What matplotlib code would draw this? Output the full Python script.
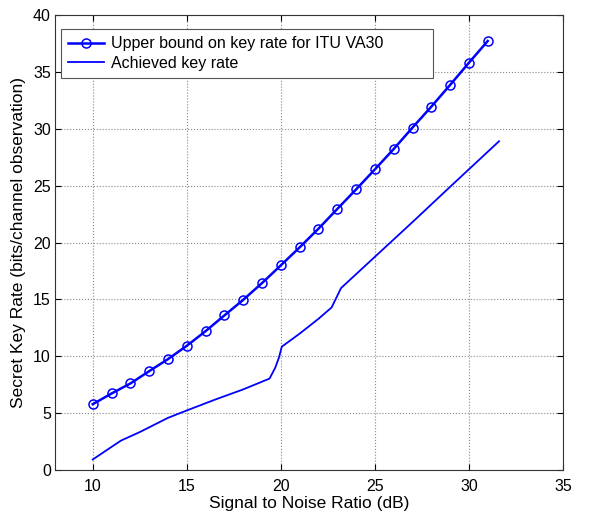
import matplotlib
matplotlib.use("Agg")
import matplotlib.pyplot as plt

plt.rcParams['font.family'] = ['Liberation Sans', 'DejaVu Sans']

snr_upper = [10, 11, 12, 13, 14, 15, 16, 17, 18, 19, 20, 21, 22, 23, 24, 25, 26, 27, 28, 29, 30, 31]
rate_upper = [5.8, 6.74, 7.62, 8.70, 9.76, 10.93, 12.22, 13.6, 14.97, 16.44, 18.0, 19.58,
              21.22, 22.95, 24.67, 26.43, 28.22, 30.1, 31.94, 33.85, 35.8, 37.71]

snr_achieved = [10, 11, 11.5, 12.5, 14, 15, 16.5, 18, 19.4, 19.7, 19.9, 20.05, 21, 22, 22.7,
                23.2, 25, 27, 29, 31.6]
rate_achieved = [0.94, 2.05, 2.6, 3.35, 4.6, 5.25, 6.2, 7.1, 8.05, 9.0, 9.9, 10.85, 12.0, 13.3,
                 14.3, 16.0, 18.75, 21.8, 24.9, 28.9]

fig = plt.figure(figsize=(6.06, 5.15), dpi=100)
ax = fig.add_axes([0.091, 0.087, 0.838, 0.884])

ax.plot(snr_upper, rate_upper, color='#0000ff', lw=1.8, marker='o', markersize=6.5,
        markerfacecolor='none', markeredgewidth=1.1,
        label='Upper bound on key rate for ITU VA30')
ax.plot(snr_achieved, rate_achieved, color='#0000ff', lw=1.3, label='Achieved key rate')

ax.set_xlim(8, 35)
ax.set_ylim(0, 40)
ax.set_xticks([10, 15, 20, 25, 30, 35])
ax.set_yticks([0, 5, 10, 15, 20, 25, 30, 35, 40])
ax.grid(True, linestyle=':', color='#888888', linewidth=0.8)
ax.tick_params(direction='in', top=True, right=True, labelsize=11.5, length=4)
ax.tick_params(axis='x', pad=6)
ax.tick_params(axis='y', pad=3)
for s in ax.spines.values():
    s.set_color('#333333')
ax.set_xlabel('Signal to Noise Ratio (dB)', fontsize=12.5, labelpad=2)
ax.set_ylabel('Secret Key Rate (bits/channel observation)', fontsize=12.5, labelpad=5)

leg = ax.legend(loc='upper left', bbox_to_anchor=(0.012, 0.969 - 0.11, 0.732, 0.11),
                mode='expand', fontsize=11.5, fancybox=False,
                framealpha=1, edgecolor='#555555', handlelength=2.2, handletextpad=0.45,
                borderpad=0.45, labelspacing=0.3, borderaxespad=0)
leg.get_frame().set_linewidth(0.8)

fig.savefig('out.png', dpi=100)
